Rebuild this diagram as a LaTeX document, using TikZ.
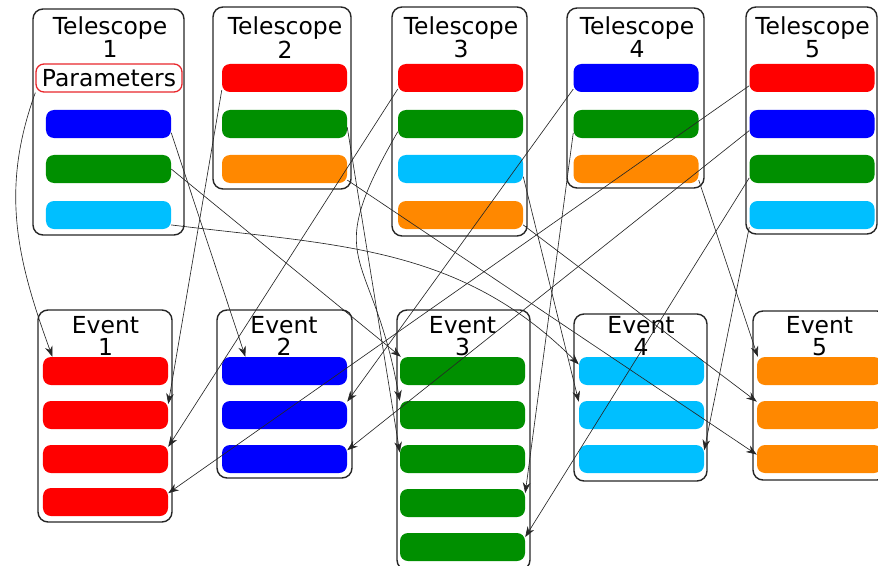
\documentclass[tikz,border=0pt]{standalone}
\usepackage{fontspec}
\setmainfont{DejaVu Sans}
\usetikzlibrary{arrows.meta}
\definecolor{parred}{HTML}{E8262B}
\definecolor{barred}{HTML}{FF0000}
\definecolor{barblue}{HTML}{0000FF}
\definecolor{bargreen}{HTML}{008F00}
\definecolor{barcyan}{HTML}{00BFFF}
\definecolor{barorange}{HTML}{FF8800}

\begin{document}
\begin{tikzpicture}[x=0.03cm, y=-0.03cm,
  frame/.style={draw=black!85, line width=1.2pt, rounded corners=0.3cm},
  title/.style={inner sep=0pt, align=center, font=\fontsize{20}{18.5}\selectfont},
  bar/.style={rounded corners=0.24cm, minimum width=3.75cm, minimum height=0.84cm, inner sep=0pt},
  redbar/.style={bar, fill=barred},
  bluebar/.style={bar, fill=barblue},
  greenbar/.style={bar, fill=bargreen},
  cyanbar/.style={bar, fill=barcyan},
  orangebar/.style={bar, fill=barorange},
  params/.style={draw=parred, line width=1.1pt, rounded corners=0.24cm, minimum width=4.38cm, minimum height=0.84cm, inner sep=0pt, font=\fontsize{20}{18.5}\selectfont},
  arr/.style={-{Stealth[length=9pt,width=6.5pt]}, line width=0.55pt, black!85}
]
\useasboundingbox (0,0) rectangle (878,565);

% telescopes
\node[frame, minimum width=4.53cm, minimum height=6.78cm] (tel1) at (108.5,122) {};
\node[title] (tel1t) at (110,37.5) {Telescope\\1};
\node[params] (par) at (109,78) {Parameters};
\node[bluebar] (t1b) at (108.5,124) {};
\node[greenbar] (t1c) at (108.5,169) {};
\node[cyanbar] (t1d) at (108.5,215) {};

\node[frame, minimum width=4.14cm, minimum height=5.46cm] (tel2) at (282,98) {};
\node[title] (tel2t) at (285,37.5) {Telescope\\2};
\node[redbar] (t2a) at (284.5,78) {};
\node[greenbar] (t2b) at (284.5,124) {};
\node[orangebar] (t2c) at (284.5,169) {};

\node[frame, minimum width=4.05cm, minimum height=6.87cm] (tel3) at (459.5,121.5) {};
\node[title] (tel3t) at (461,37.5) {Telescope\\3};
\node[redbar] (t3a) at (460.5,78) {};
\node[greenbar] (t3b) at (460.5,124) {};
\node[cyanbar] (t3c) at (460.5,169) {};
\node[orangebar] (t3d) at (460.5,215) {};

\node[frame, minimum width=4.11cm, minimum height=5.40cm] (tel4) at (635.5,98) {};
\node[title] (tel4t) at (637,37.5) {Telescope\\4};
\node[bluebar] (t4a) at (636,78) {};
\node[greenbar] (t4b) at (636,124) {};
\node[orangebar] (t4c) at (636,169) {};

\node[frame, minimum width=3.93cm, minimum height=6.81cm] (tel5) at (811.5,120.5) {};
\node[title] (tel5t) at (812.5,37.5) {Telescope\\5};
\node[redbar] (t5a) at (812,78) {};
\node[bluebar] (t5b) at (812,124) {};
\node[greenbar] (t5c) at (812,169) {};
\node[cyanbar] (t5d) at (812,215) {};

% events
\node[frame, minimum width=4.02cm, minimum height=6.36cm] (ev1) at (105,416) {};
\node[title] (ev1t) at (105.5,336) {Event\\1};
\node[redbar] (e1a) at (105.5,371) {};
\node[redbar] (e1b) at (105.5,415) {};
\node[redbar] (e1c) at (105.5,459) {};
\node[redbar] (e1d) at (105.5,502) {};

\node[frame, minimum width=4.05cm, minimum height=5.04cm] (ev2) at (284.5,394) {};
\node[title] (ev2t) at (284,336) {Event\\2};
\node[bluebar] (e2a) at (284.5,371) {};
\node[bluebar] (e2b) at (284.5,415) {};
\node[bluebar] (e2c) at (284.5,459) {};

\node[frame, minimum width=3.99cm, minimum height=7.8cm] (ev3) at (463.5,440) {};
\node[title] (ev3t) at (462.5,336) {Event\\3};
\node[greenbar] (e3a) at (462.5,371) {};
\node[greenbar] (e3b) at (462.5,415) {};
\node[greenbar] (e3c) at (462.5,459) {};
\node[greenbar] (e3d) at (462.5,503) {};
\node[greenbar] (e3e) at (462.5,547) {};

\node[frame, minimum width=3.99cm, minimum height=5.01cm] (ev4) at (640.5,397.5) {};
\node[title] (ev4t) at (641,336) {Event\\4};
\node[cyanbar] (e4a) at (641.5,371) {};
\node[cyanbar] (e4b) at (641.5,415) {};
\node[cyanbar] (e4c) at (641.5,459) {};

\node[frame, minimum width=4.02cm, minimum height=5.07cm] (ev5) at (820,395.5) {};
\node[title] (ev5t) at (819.5,336) {Event\\5};
\node[orangebar] (e5a) at (819.5,371) {};
\node[orangebar] (e5b) at (819.5,415) {};
\node[orangebar] (e5c) at (819.5,459) {};

% links
\draw[arr] (par.south west) to[out=-110,in=110] (e1a.165);
\draw[arr] (t2a.191) -- (e1b.10);
\draw[arr] (t3a.190) -- (e1c.11);
\draw[arr] (t5a.187) -- (e1d.8);
\draw[arr] (t1b.-8) -- (e2a.160);
\draw[arr] (t4a.190) -- (e2b.12);
\draw[arr] (t5b.186) -- (e2c.8);
\draw[arr] (t1c.east) -- (e3a.167);
\draw[arr] (t3b.187) to[out=-120,in=100,looseness=1.5] (e3b.north west);
\draw[arr] (t2b.-3) -- (e3c.174);
\draw[arr] (t4b.188) -- (e3d.9);
\draw[arr] (t5c.188) -- (e3e.9);
\draw[arr] (t1d.-9) to[out=-7,in=135] (e4a.174);
\draw[arr] (t3c.-7) -- (e4b.168);
\draw[arr] (t5d.191) -- (e4c.8);
\draw[arr] (t4c.-10) -- (e5a.167);
\draw[arr] (t3d.-9) -- (e5b.168);
\draw[arr] (t2c.-10) -- (e5c.176);
\end{tikzpicture}
\end{document}
